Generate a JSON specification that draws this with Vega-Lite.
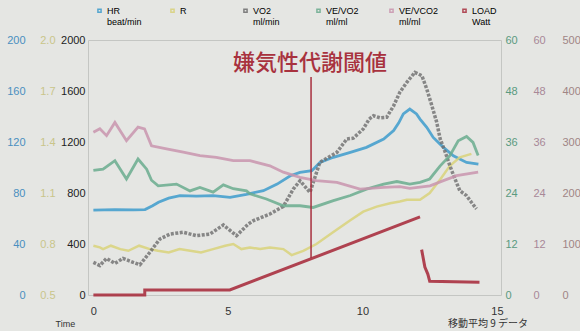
{
  "$schema": "https://vega.github.io/schema/vega-lite/v6.json",
  "width": 413,
  "height": 255,
  "autosize": {"type": "none"},
  "padding": {"left": 88, "top": 40, "right": 79, "bottom": 36},
  "background": "#e5e6e3",
  "config": {
    "view": {"stroke": "#c4c6c3", "strokeWidth": 1},
    "font": "Liberation Sans Narrow, Liberation Sans, sans-serif"
  },
  "title": {"text": "移動平均 9 データ", "orient": "bottom", "anchor": "end", "frame": "group", "fontSize": 10, "fontWeight": "normal", "font": "Noto Sans CJK JP", "color": "#333333", "dx": 27, "dy": -9, "offset": 0},
  "encoding": {
    "x": {"field": "t", "type": "quantitative",
      "scale": {"domain": [-0.2, 15.15], "nice": false, "zero": false},
      "axis": {"values": [0, 5, 10, 15], "grid": false, "domain": false, "ticks": false, "tickSize": 0, "labelPadding": 10, "labelFontSize": 11, "labelColor": "#333333", "labelFlush": false,
        "title": "Time", "titleX": -33, "titleY": 28, "titleAlign": "left", "titleBaseline": "middle", "titleFontSize": 9, "titleFontWeight": "normal", "titleColor": "#333333"}}
  },
  "layer": [
    {
      "data": {"values": [
        {"t": 0.0, "v": 66.5}, {"t": 0.8, "v": 66.9}, {"t": 1.5, "v": 66.7}, {"t": 1.92, "v": 67}, {"t": 2.2, "v": 70}, {"t": 2.42, "v": 72.7}, {"t": 2.8, "v": 76}, {"t": 3.22, "v": 77.9}, {"t": 3.83, "v": 77.5}, {"t": 4.45, "v": 77.9}, {"t": 5.08, "v": 76.6}, {"t": 5.69, "v": 79}, {"t": 6.32, "v": 81.8}, {"t": 6.83, "v": 87}, {"t": 7.32, "v": 93.5}, {"t": 7.68, "v": 96.2}, {"t": 8.12, "v": 97.5}, {"t": 8.42, "v": 104}, {"t": 8.92, "v": 108}, {"t": 9.55, "v": 111.9}, {"t": 10.15, "v": 115.8}, {"t": 10.79, "v": 122.3}, {"t": 11.16, "v": 129}, {"t": 11.35, "v": 135}, {"t": 11.52, "v": 142}, {"t": 11.76, "v": 145.8}, {"t": 12.01, "v": 142}, {"t": 12.14, "v": 138}, {"t": 12.39, "v": 131.5}, {"t": 12.63, "v": 123.6}, {"t": 13.01, "v": 115.8}, {"t": 13.38, "v": 109.2}, {"t": 13.87, "v": 104}, {"t": 14.31, "v": 102.7}
      ]},
      "mark": {"type": "line", "strokeWidth": 2.8, "opacity": 0.85},
      "encoding": {
        "y": {"field": "v", "type": "quantitative", "scale": {"domain": [0, 200], "nice": false},
          "axis": {"orient": "left", "offset": 60, "values": [0, 40, 80, 120, 160, 200], "format": "d", "grid": false, "domain": false, "ticks": false, "tickSize": 0, "labelPadding": 3, "labelFontSize": 11, "labelColor": "#4a8fc0", "title": null}},
        "color": {"datum": "HR", "type": "nominal",
          "scale": {"domain": ["HR", "R", "VO2", "VE/VO2", "VE/VCO2", "LOAD"], "range": ["#3d9bcc", "#d9d27a", "#6e6e6e", "#6aab8e", "#c994ae", "#a8303f"]},
          "legend": {"orient": "none", "legendX": 7, "legendY": -34, "direction": "horizontal", "columns": 6, "gridAlign": "all", "columnPadding": 20, "title": null,
            "symbolType": "square", "symbolSize": 10, "labelFontSize": 9, "labelOffset": 3,
            "labelExpr": "[datum.label, datum.label == 'HR' ? 'beat/min' : datum.label == 'VO2' ? 'ml/min' : datum.label == 'LOAD' ? 'Watt' : datum.label == 'R' ? '' : 'ml/ml']",
            "encode": {
              "labels": {"update": {"fill": {"scale": "color", "field": "value"}}},
              "symbols": {"update": {"fill": {"scale": "color", "field": "value"}, "stroke": {"value": "transparent"}, "shape": {"value": "square"}}}
            }}}
      }
    },
    {
      "data": {"values": [
        {"t": 0.0, "v": 0.79}, {"t": 0.24, "v": 0.78}, {"t": 0.36, "v": 0.77}, {"t": 0.65, "v": 0.79}, {"t": 1.0, "v": 0.77}, {"t": 1.3, "v": 0.76}, {"t": 1.7, "v": 0.79}, {"t": 2.1, "v": 0.77}, {"t": 2.4, "v": 0.76}, {"t": 2.8, "v": 0.75}, {"t": 3.2, "v": 0.77}, {"t": 3.6, "v": 0.76}, {"t": 4.0, "v": 0.75}, {"t": 4.45, "v": 0.77}, {"t": 4.9, "v": 0.79}, {"t": 5.2, "v": 0.8}, {"t": 5.5, "v": 0.77}, {"t": 5.82, "v": 0.78}, {"t": 6.2, "v": 0.77}, {"t": 6.56, "v": 0.78}, {"t": 7.06, "v": 0.77}, {"t": 7.37, "v": 0.735}, {"t": 7.8, "v": 0.76}, {"t": 8.29, "v": 0.8}, {"t": 8.92, "v": 0.87}, {"t": 9.55, "v": 0.94}, {"t": 10.03, "v": 0.99}, {"t": 10.53, "v": 1.02}, {"t": 11.03, "v": 1.04}, {"t": 11.39, "v": 1.05}, {"t": 11.65, "v": 1.06}, {"t": 12.14, "v": 1.06}, {"t": 12.5, "v": 1.1}, {"t": 12.89, "v": 1.18}, {"t": 13.25, "v": 1.26}, {"t": 13.62, "v": 1.31}, {"t": 14.05, "v": 1.33}
      ]},
      "mark": {"type": "line", "strokeWidth": 2.5, "opacity": 0.85},
      "encoding": {
        "y": {"field": "v", "type": "quantitative", "scale": {"domain": [0.5, 2.0], "nice": false, "zero": false},
          "axis": {"orient": "left", "offset": 30, "values": [0.5, 0.8, 1.1, 1.4, 1.7, 2.0], "format": ".1f", "grid": false, "domain": false, "ticks": false, "tickSize": 0, "labelPadding": 3, "labelFontSize": 11, "labelColor": "#c9c58a", "title": null}},
        "color": {"datum": "R", "type": "nominal"}
      }
    },
    {
      "data": {"values": [
        {"t": 0.0, "v": 256}, {"t": 0.24, "v": 231}, {"t": 0.49, "v": 287}, {"t": 0.8, "v": 248}, {"t": 1.1, "v": 287}, {"t": 1.48, "v": 256}, {"t": 1.73, "v": 237}, {"t": 2.1, "v": 335}, {"t": 2.47, "v": 439}, {"t": 2.85, "v": 478}, {"t": 3.34, "v": 492}, {"t": 3.83, "v": 465}, {"t": 4.33, "v": 478}, {"t": 4.83, "v": 549}, {"t": 5.32, "v": 465}, {"t": 5.76, "v": 557}, {"t": 5.95, "v": 583}, {"t": 6.56, "v": 635}, {"t": 7.06, "v": 695}, {"t": 7.43, "v": 831}, {"t": 7.68, "v": 896}, {"t": 8.05, "v": 805}, {"t": 8.42, "v": 1041}, {"t": 9.05, "v": 1119}, {"t": 9.42, "v": 1224}, {"t": 9.66, "v": 1230}, {"t": 10.03, "v": 1302}, {"t": 10.25, "v": 1380}, {"t": 10.41, "v": 1406}, {"t": 10.65, "v": 1390}, {"t": 10.9, "v": 1394}, {"t": 11.15, "v": 1480}, {"t": 11.39, "v": 1590}, {"t": 11.65, "v": 1668}, {"t": 11.95, "v": 1746}, {"t": 12.21, "v": 1720}, {"t": 12.39, "v": 1616}, {"t": 12.58, "v": 1485}, {"t": 12.76, "v": 1355}, {"t": 12.89, "v": 1224}, {"t": 13.08, "v": 1119}, {"t": 13.25, "v": 1014}, {"t": 13.44, "v": 910}, {"t": 13.62, "v": 818}, {"t": 13.87, "v": 779}, {"t": 14.05, "v": 727}, {"t": 14.24, "v": 675}
      ]},
      "mark": {"type": "line", "strokeWidth": 3.5, "opacity": 0.8, "strokeDash": [3, 1.5]},
      "encoding": {
        "y": {"field": "v", "type": "quantitative", "scale": {"domain": [0, 2000], "nice": false},
          "axis": {"orient": "left", "offset": 0, "values": [0, 400, 800, 1200, 1600, 2000], "format": "d", "grid": false, "domain": false, "ticks": false, "tickSize": 0, "labelPadding": 3, "labelFontSize": 11, "labelColor": "#222222", "title": null}},
        "color": {"datum": "VO2", "type": "nominal"}
      }
    },
    {
      "data": {"values": [
        {"t": 0.0, "v": 29.3}, {"t": 0.36, "v": 29.6}, {"t": 0.8, "v": 31.6}, {"t": 1.23, "v": 27.3}, {"t": 1.66, "v": 32.0}, {"t": 1.98, "v": 29.6}, {"t": 2.16, "v": 27}, {"t": 2.41, "v": 25.7}, {"t": 3.09, "v": 26.1}, {"t": 3.59, "v": 24.5}, {"t": 3.96, "v": 25.3}, {"t": 4.45, "v": 24.2}, {"t": 4.83, "v": 25.9}, {"t": 5.2, "v": 25.0}, {"t": 5.69, "v": 24.5}, {"t": 5.82, "v": 23.8}, {"t": 6.43, "v": 22.6}, {"t": 7.06, "v": 21.0}, {"t": 7.68, "v": 21.0}, {"t": 8.17, "v": 20.6}, {"t": 8.92, "v": 22.2}, {"t": 9.55, "v": 23.4}, {"t": 10.15, "v": 24.9}, {"t": 10.79, "v": 26.1}, {"t": 11.28, "v": 26.7}, {"t": 11.76, "v": 26.1}, {"t": 12.14, "v": 26.5}, {"t": 12.5, "v": 27.3}, {"t": 12.89, "v": 30.4}, {"t": 13.25, "v": 32.8}, {"t": 13.56, "v": 36.3}, {"t": 13.87, "v": 37.3}, {"t": 14.11, "v": 35.9}, {"t": 14.3, "v": 32.8}
      ]},
      "mark": {"type": "line", "strokeWidth": 2.8, "opacity": 0.85},
      "encoding": {
        "y": {"field": "v", "type": "quantitative", "scale": {"domain": [0, 60], "nice": false},
          "axis": {"orient": "right", "offset": 0, "values": [0, 12, 24, 36, 48, 60], "grid": false, "domain": false, "ticks": false, "tickSize": 0, "labelPadding": 4, "labelFontSize": 11, "labelColor": "#5a9a80", "title": null}},
        "color": {"datum": "VE/VO2", "type": "nominal"}
      }
    },
    {
      "data": {"values": [
        {"t": 0.0, "v": 38.3}, {"t": 0.24, "v": 39.1}, {"t": 0.49, "v": 37.5}, {"t": 0.8, "v": 40.6}, {"t": 1.23, "v": 36.3}, {"t": 1.66, "v": 39.5}, {"t": 1.9, "v": 39.1}, {"t": 2.16, "v": 35.1}, {"t": 2.72, "v": 34.4}, {"t": 3.34, "v": 33.6}, {"t": 3.96, "v": 32.8}, {"t": 4.57, "v": 32.4}, {"t": 5.2, "v": 31.6}, {"t": 5.82, "v": 31.6}, {"t": 6.56, "v": 30.4}, {"t": 7.06, "v": 28.9}, {"t": 7.68, "v": 27.7}, {"t": 8.29, "v": 26.9}, {"t": 9.05, "v": 26.5}, {"t": 9.91, "v": 24.9}, {"t": 10.79, "v": 25.3}, {"t": 11.39, "v": 25.5}, {"t": 11.76, "v": 25.1}, {"t": 12.51, "v": 25.7}, {"t": 13.01, "v": 26.9}, {"t": 13.5, "v": 28.1}, {"t": 14.3, "v": 28.9}
      ]},
      "mark": {"type": "line", "strokeWidth": 2.8, "opacity": 0.85},
      "encoding": {
        "y": {"field": "v", "type": "quantitative", "scale": {"domain": [0, 60], "nice": false},
          "axis": {"orient": "right", "offset": 28, "values": [0, 12, 24, 36, 48, 60], "grid": false, "domain": false, "ticks": false, "tickSize": 0, "labelPadding": 4, "labelFontSize": 11, "labelColor": "#a88898", "title": null}},
        "color": {"datum": "VE/VCO2", "type": "nominal"}
      }
    },
    {
      "data": {"values": [
        {"t": 0.0, "v": 0, "seg": "a"}, {"t": 1.91, "v": 0, "seg": "a"}, {"t": 1.91, "v": 10, "seg": "a"}, {"t": 5.07, "v": 10, "seg": "a"}, {"t": 12.14, "v": 153, "seg": "a"},
        {"t": 12.2, "v": 89, "seg": "b"}, {"t": 12.32, "v": 55, "seg": "b"}, {"t": 12.43, "v": 41, "seg": "b"}, {"t": 12.5, "v": 27, "seg": "b"}, {"t": 14.35, "v": 25, "seg": "b"}
      ]},
      "mark": {"type": "line", "strokeWidth": 3, "opacity": 0.9},
      "encoding": {
        "y": {"field": "v", "type": "quantitative", "scale": {"domain": [0, 500], "nice": false},
          "axis": {"orient": "right", "offset": 57, "values": [0, 100, 200, 300, 400, 500], "format": "d", "grid": false, "domain": false, "ticks": false, "tickSize": 0, "labelPadding": 4, "labelFontSize": 11, "labelColor": "#a08585", "title": null}},
        "detail": {"field": "seg", "type": "nominal"},
        "color": {"datum": "LOAD", "type": "nominal"}
      }
    },
    {
      "data": {"values": [{"t": 8.09, "top": 1710, "bottom": 290}]},
      "mark": {"type": "rule", "color": "#a8303f", "strokeWidth": 1.5},
      "encoding": {
        "y": {"field": "top", "type": "quantitative", "scale": {"domain": [0, 2000], "nice": false}, "axis": null},
        "y2": {"field": "bottom"}
      }
    },
    {
      "data": {"values": [{"t": 8.05, "v": 1820, "label": "嫌気性代謝閾値"}]},
      "mark": {"type": "text", "font": "Noto Sans CJK JP", "fontSize": 22, "fontWeight": 500, "color": "#a8323e", "align": "center", "baseline": "middle"},
      "encoding": {
        "y": {"field": "v", "type": "quantitative", "scale": {"domain": [0, 2000], "nice": false}, "axis": null},
        "text": {"field": "label"}
      }
    }
  ],
  "resolve": {"scale": {"y": "independent"}}
}
